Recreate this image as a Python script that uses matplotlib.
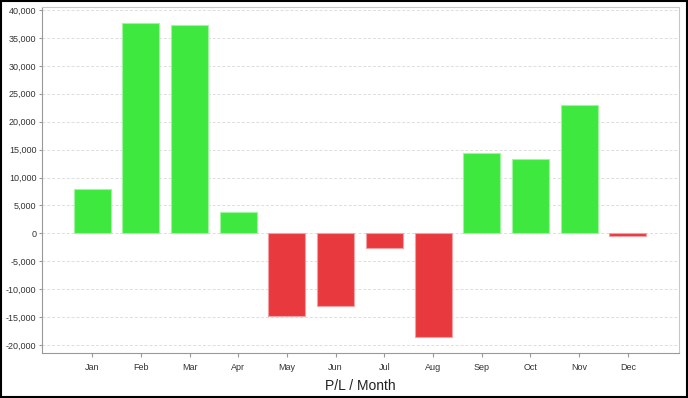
""" Monthly P/L bar chart """
import matplotlib
matplotlib.use('Agg')
import matplotlib.pyplot as plt
from matplotlib.patches import Rectangle
from matplotlib.ticker import FuncFormatter

#data
months = ['Jan', 'Feb', 'Mar', 'Apr', 'May', 'Jun', 'Jul', 'Aug', 'Sep', 'Oct', 'Nov', 'Dec']
pnl = [7950, 37700, 37300, 3850, -14800, -13000, -2600, -18550, 14400, 13300, 23000, -450]
yticks = list(range(-20000, 40001, 5000))

GREEN = '#3fe83f'
RED = '#e8393f'

plt.rcParams['font.family'] = ['Liberation Sans', 'DejaVu Sans']

fig = plt.figure(figsize=(6.88, 3.98), dpi=100)
ax = fig.add_axes([42/688, 45/398, 637/688, 346/398])

colors = [GREEN if v >= 0 else RED for v in pnl]
edges = ['#9ef59e' if v >= 0 else '#f2a0a3' for v in pnl]
x = range(len(months))
ax.bar(x, pnl, width=0.76, color=colors, edgecolor=edges, linewidth=0.8, zorder=3)

ax.set_xlim(-1.03, 12.05)
ax.set_ylim(-21430, 40540)
ax.set_xticks(list(x))
ax.set_xticklabels(months, fontsize=6.5, color='#333333')
ax.set_yticks(yticks)
ax.yaxis.set_major_formatter(FuncFormatter(lambda v, p: '{:,.0f}'.format(v)))
ax.tick_params(axis='y', labelsize=6.5, labelcolor='#333333', length=2, color='#999999', pad=2)
ax.tick_params(axis='x', length=3, color='#999999', pad=4)
ax.grid(axis='y', linestyle=(0, (3, 2)), color='#dddddd', linewidth=0.7, zorder=0)

for side in ['left', 'bottom']:
    ax.spines[side].set_color('#999999')
for side in ['right', 'top']:
    ax.spines[side].set_color('#c8c8c8')

ax.set_xlabel('P/L / Month', fontsize=10, color='#222222', labelpad=5)

#outer border
fig.patches.append(Rectangle((0.001, 0.002), 0.997, 0.996, transform=fig.transFigure,
                             fill=False, edgecolor='black', linewidth=1.5))

fig.savefig('out.png', dpi=100)
